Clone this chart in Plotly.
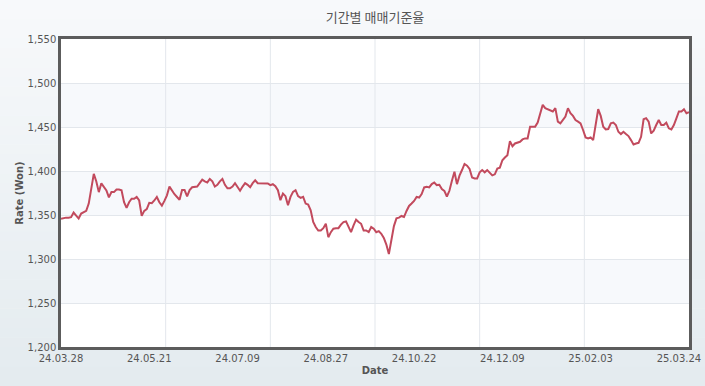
import plotly.graph_objects as go

# ---------------- data ----------------
title_text = "기간별 매매기준율"
y_title = "Rate (Won)"
x_title = "Date"
tick_labels = ["24.03.28", "24.05.21", "24.07.09", "24.08.27",
               "24.10.22", "24.12.09", "25.02.03", "25.03.24"]
tick_index = [0, 35, 70, 105, 140, 175, 210, 245]

rate_part1 = [1345.7, 1346.5, 1347.0, 1347.0, 1347.6, 1352.8, 1349.0, 1346.0, 1351.6, 1353.5,
              1354.7, 1363.0, 1380.0, 1396.8, 1388.0, 1376.0, 1386.0, 1382.0, 1378.0, 1370.0,
              1376.0, 1376.0, 1379.0, 1379.0, 1378.0, 1364.5, 1358.0, 1364.5, 1368.5, 1368.5,
              1370.5, 1366.5, 1349.0, 1354.7, 1356.7, 1363.8, 1363.4, 1366.5, 1370.5, 1364.5,
              1360.6]
rate_part2 = [1366.0, 1372.4, 1382.3, 1377.6, 1373.6, 1370.5, 1367.3, 1378.3, 1378.3, 1371.3,
              1378.3, 1381.5, 1381.5, 1382.3, 1386.2, 1390.2, 1388.2, 1387.0, 1391.0, 1388.2,
              1382.3, 1384.3, 1388.2, 1391.0, 1384.3, 1380.3, 1380.3, 1382.3, 1386.2, 1382.3,
              1377.6, 1382.3, 1386.2, 1384.3, 1381.5, 1386.2, 1389.4, 1386.2, 1386.0, 1386.2]
rate_part3 = [1385.9, 1385.9, 1384.0, 1385.0, 1382.8, 1378.2, 1366.8, 1374.4, 1371.4, 1361.0,
              1370.6, 1376.3, 1378.2, 1371.4, 1369.5, 1370.6, 1363.0, 1361.8, 1355.3, 1342.0,
              1336.3, 1332.4, 1332.4, 1335.0, 1340.0, 1324.8, 1330.5, 1334.4, 1335.0, 1335.0,
              1339.0, 1342.0, 1342.7, 1336.3, 1330.5, 1338.2, 1344.7, 1342.0, 1340.0, 1332.4,
              1332.4, 1330.5, 1336.3, 1334.4, 1330.5, 1331.7, 1328.6]
rate_part4 = [1324.0, 1316.4, 1305.7, 1324.0, 1337.4, 1346.2, 1347.0, 1348.9, 1347.7, 1354.6,
              1360.3, 1363.0, 1366.0, 1370.6, 1369.8, 1373.7, 1381.3, 1382.0, 1381.3, 1385.1,
              1387.0, 1384.0, 1384.3, 1379.4, 1377.5, 1371.0, 1377.5, 1389.0, 1399.2, 1385.1,
              1394.7, 1401.1, 1408.0, 1406.1, 1402.3, 1392.7, 1391.6, 1391.6, 1398.5, 1401.1,
              1398.5, 1401.1]
rate_part5 = [1397.7, 1395.0, 1396.2, 1402.7, 1403.8, 1412.2, 1415.3, 1418.0, 1434.0, 1428.2,
              1431.3, 1432.0, 1433.2, 1435.9, 1437.0, 1437.0, 1450.4, 1450.4, 1450.4, 1455.0,
              1465.6, 1475.2, 1471.4, 1470.2, 1469.5, 1467.6, 1471.4, 1456.1, 1454.2, 1458.8,
              1461.8, 1471.4, 1465.6, 1462.6, 1458.0, 1456.1, 1454.2, 1446.6, 1438.2, 1437.0,
              1438.2, 1435.1]
rate_part6 = [1454.2, 1470.2, 1462.6, 1450.4, 1447.3, 1447.7, 1454.2, 1455.0, 1452.3, 1444.6,
              1442.0, 1444.6, 1442.0, 1439.7, 1435.1, 1430.2, 1431.3, 1432.0, 1438.9, 1458.8,
              1460.0, 1456.1, 1442.7, 1445.8, 1452.3, 1458.0, 1452.3, 1452.3, 1455.0, 1448.5,
              1447.3, 1452.3, 1459.9, 1467.6, 1467.6, 1470.2, 1465.6, 1466.7]
rate = rate_part1 + rate_part2 + rate_part3 + rate_part4 + rate_part5 + rate_part6
day_index = list(range(len(rate)))

y_min, y_max, y_step = 1200, 1550, 50
bands = [(1250, 1300), (1350, 1400), (1450, 1500)]

# ---------------- style ----------------
W, H = 705, 386
ml, mr, mt, mb = 61, 16, 39, 39
line_color = "#c24a5d"
text_color = "#555555"
grid_color = "#e3e7ec"
band_color = "#f7f9fc"
border_color = "#5c5c5c"
tick_font = dict(family="DejaVu Sans, Verdana, sans-serif", size=10, color=text_color)
axis_title_font = dict(family="DejaVu Sans, Verdana, sans-serif", size=10, color=text_color)

fig = go.Figure()
fig.add_trace(go.Scatter(x=day_index, y=rate, mode="lines",
                         line=dict(color=line_color, width=2), hoverinfo="skip",
                         showlegend=False))

# gradient page background (paper coords extended into margins)
pw = W - ml - mr
ph = H - mt - mb
x_left, x_right = -ml / pw, (W - ml) / pw
y_bottom, y_top = -mb / ph, (H - mb) / ph
top_rgb = (247, 249, 251)
bot_rgb = (228, 235, 239)
n_strips = 40
shapes = []
for i in range(n_strips):
    t = i / (n_strips - 1)
    c = tuple(int(round(bot_rgb[k] + (top_rgb[k] - bot_rgb[k]) * t)) for k in range(3))
    y0 = y_bottom + (y_top - y_bottom) * i / n_strips
    y1 = y_bottom + (y_top - y_bottom) * (i + 1) / n_strips + 0.002
    shapes.append(dict(type="rect", xref="paper", yref="paper", x0=x_left, x1=x_right,
                       y0=y0, y1=y1, fillcolor="rgb(%d,%d,%d)" % c,
                       line=dict(width=0), layer="below"))
# white plot area
shapes.append(dict(type="rect", xref="paper", yref="paper", x0=0, x1=1, y0=0, y1=1,
                   fillcolor="white", line=dict(width=0), layer="below"))
# alternating bands
for b0, b1 in bands:
    shapes.append(dict(type="rect", xref="x domain", yref="y", x0=0, x1=1, y0=b0, y1=b1,
                       fillcolor=band_color, line=dict(width=0), layer="below"))
# vertical grid lines: 6 equal divisions of the plot width
for k in range(1, 6):
    shapes.append(dict(type="line", xref="x domain", yref="y domain", x0=k / 6, x1=k / 6,
                       y0=0, y1=1, line=dict(color=grid_color, width=1), layer="below"))

fig.update_layout(
    width=W, height=H,
    margin=dict(l=ml, r=mr, t=mt, b=mb, pad=0, autoexpand=False),
    paper_bgcolor="rgba(0,0,0,0)",
    plot_bgcolor="rgba(0,0,0,0)",
    shapes=shapes,
    showlegend=False,
    title=dict(text=title_text, x=(ml + pw / 2) / W, xanchor="center",
               y=1 - 17 / H, yanchor="middle",
               font=dict(family="Noto Sans CJK KR, sans-serif", size=13, color=text_color)),
    xaxis=dict(range=[0, len(rate) - 1], tickvals=tick_index, ticktext=tick_labels,
               showgrid=False, zeroline=False, ticks="", tickfont=tick_font,
               ticklabelstandoff=0, automargin=False,
               showline=True, mirror=True, linecolor=border_color, linewidth=2.5,
               title=dict(text="<b>" + x_title + "</b>", standoff=5, font=axis_title_font)),
    yaxis=dict(range=[y_min, y_max], dtick=y_step, tick0=y_min, tickformat=",",
               showgrid=True, gridcolor=grid_color, gridwidth=1, zeroline=False,
               ticks="", tickfont=tick_font, automargin=False,
               showline=True, mirror=True, linecolor=border_color, linewidth=2.5,
               title=dict(text="<b>" + y_title + "</b>", standoff=3, font=axis_title_font)),
)

fig.write_html("out.html")
